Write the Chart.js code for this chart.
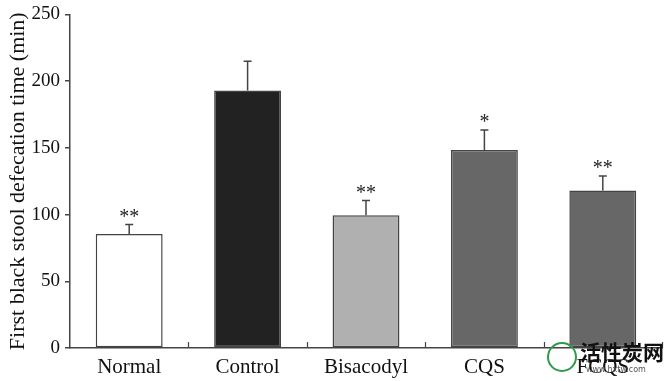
<!DOCTYPE html>
<html>
<head>
<meta charset="utf-8">
<script src="https://cdn.jsdelivr.net/npm/chart.js@4"></script>
<style>
  html, body { margin: 0; padding: 0; background: #fff; }
  #wrap { width: 669px; height: 381px; position: relative; }
</style>
</head>
<body>
<div id="wrap"><canvas id="myChart" width="669" height="381"></canvas></div>
<script>
// data
var groups = ["Normal", "Control", "Bisacodyl", "CQS", "FCQS"];
var meanTime = [85.5, 193, 99.5, 148.5, 118];
var sdTime = [7, 22, 11, 15, 11];
var marks = ["**", "", "**", "*", "**"];
var barColors = ["#ffffff", "#222222", "#b0b0b0", "#676767", "#676767"];
var yTicks = [0, 50, 100, 150, 200, 250];

var serif = "'Liberation Serif', 'Times New Roman', serif";

// error bars + significance stars
var errorBars = {
    id: "errorBars",
    afterDatasetsDraw: function (chart) {
        var ctx = chart.ctx;
        var y = chart.scales.y;
        var meta = chart.getDatasetMeta(0);
        ctx.save();
        ctx.strokeStyle = "#444";
        ctx.lineWidth = 1.5;
        meta.data.forEach(function (bar, i) {
            var top = y.getPixelForValue(meanTime[i] + sdTime[i]);
            ctx.beginPath();
            ctx.moveTo(bar.x, bar.y);
            ctx.lineTo(bar.x, top);
            ctx.moveTo(bar.x - 4, top);
            ctx.lineTo(bar.x + 4, top);
            ctx.stroke();
            if (marks[i]) {
                ctx.fillStyle = "#222";
                ctx.font = "20px " + serif;
                ctx.textAlign = "center";
                ctx.textBaseline = "alphabetic";
                ctx.fillText(marks[i], bar.x, top - 2);
            }
        });
        ctx.restore();
    }
};

// small upward ticks between categories on the x axis
var innerTicks = {
    id: "innerTicks",
    afterDraw: function (chart) {
        var ctx = chart.ctx;
        var x = chart.scales.x;
        var step = (x.right - x.left) / groups.length;
        ctx.save();
        ctx.strokeStyle = "#444";
        ctx.lineWidth = 1.2;
        for (var i = 1; i <= groups.length; i++) {
            var px = Math.round(x.left + step * i) + 0.5;
            ctx.beginPath();
            ctx.moveTo(px, x.top);
            ctx.lineTo(px, x.top - 6);
            ctx.stroke();
        }
        ctx.restore();
    }
};

// site watermark in the bottom right corner
var watermark = {
    id: "watermark",
    afterDraw: function (chart) {
        var ctx = chart.ctx;
        ctx.save();
        ctx.strokeStyle = "#2e9a4a";
        ctx.lineWidth = 2;
        ctx.beginPath();
        ctx.arc(562, 357, 14, 0, Math.PI * 2);
        ctx.stroke();
        ctx.fillStyle = "#111";
        ctx.font = "bold 21px 'Noto Sans CJK SC'";
        ctx.textAlign = "left";
        ctx.textBaseline = "middle";
        ctx.fillText("活性炭网", 580, 352);
        ctx.fillStyle = "#555";
        ctx.font = "8px 'DejaVu Sans'";
        ctx.fillText("www.hxtw.com", 586, 370);
        ctx.restore();
    }
};

var ctx = document.getElementById("myChart").getContext("2d");
var myChart = new Chart(ctx, {
    type: "bar",
    data: {
        labels: groups,
        datasets: [{
            data: meanTime,
            backgroundColor: barColors,
            borderColor: "#444",
            borderWidth: 1.5,
            borderSkipped: false,
            barPercentage: 0.565,
            categoryPercentage: 1
        }]
    },
    options: {
        responsive: false,
        animation: false,
        layout: { padding: { top: 13, right: 7, left: 0, bottom: 0 } },
        plugins: {
            legend: { display: false },
            tooltip: { enabled: false }
        },
        scales: {
            x: {
                grid: { display: false },
                border: { color: "#444", width: 1.5 },
                ticks: {
                    color: "#111",
                    padding: -1,
                    font: { family: serif, size: 21 }
                },
                afterFit: function (scale) { scale.height = 33; }
            },
            y: {
                min: 0,
                max: 250,
                afterBuildTicks: function (scale) {
                    scale.ticks = yTicks.map(function (v) { return { value: v }; });
                },
                grid: {
                    drawOnChartArea: false,
                    drawTicks: true,
                    tickLength: 5,
                    color: "#444",
                    lineWidth: 1.5
                },
                border: { color: "#444", width: 1.5 },
                ticks: {
                    color: "#111",
                    padding: 5,
                    font: { family: serif, size: 19, lineHeight: 1 }
                },
                title: {
                    display: true,
                    text: "First black stool defecation time (min)",
                    color: "#111",
                    padding: { top: 5, bottom: 0 },
                    font: { family: serif, size: 22 }
                },
                afterFit: function (scale) { scale.width = 70; }
            }
        }
    },
    plugins: [errorBars, innerTicks, watermark]
});
</script>
</body>
</html>
